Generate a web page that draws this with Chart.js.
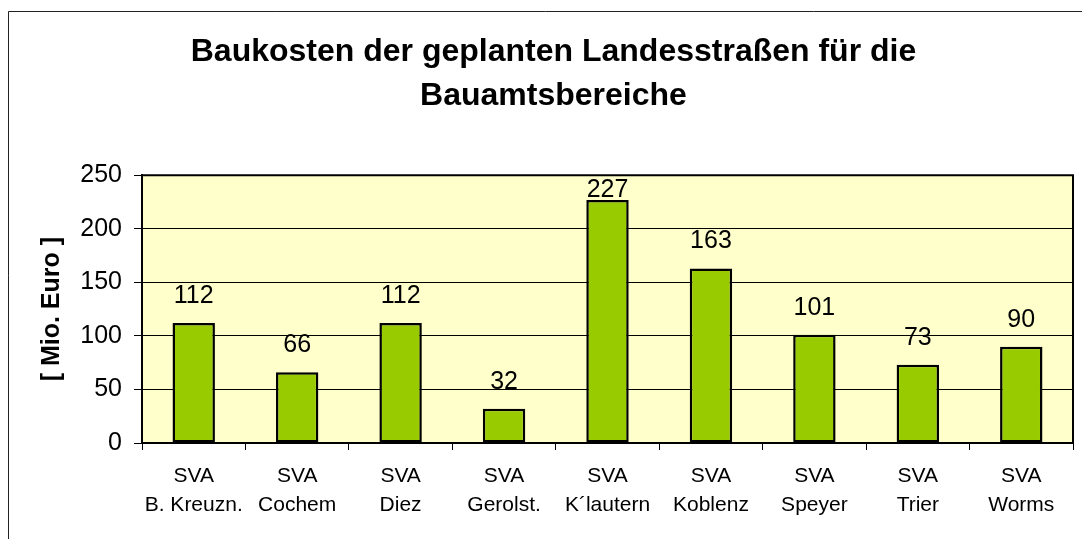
<!DOCTYPE html>
<html>
<head>
<meta charset="utf-8">
<script src="https://cdn.jsdelivr.net/npm/chart.js@4"></script>
<style>
  html, body { margin: 0; padding: 0; background: #fff; }
  #wrap { width: 1082px; height: 539px; }
</style>
</head>
<body>
<div id="wrap"><canvas id="chart" width="1082" height="539"></canvas></div>
<script>
// ------------------------
// DATA
// ------------------------
const categories = [
  ["SVA", "B. Kreuzn."],
  ["SVA", "Cochem"],
  ["SVA", "Diez"],
  ["SVA", "Gerolst."],
  ["SVA", "K\u00b4lautern"],
  ["SVA", "Koblenz"],
  ["SVA", "Speyer"],
  ["SVA", "Trier"],
  ["SVA", "Worms"]
];
const costs = [112, 66, 112, 32, 227, 163, 101, 73, 90];
const titleLines = ["Baukosten der geplanten Landesstraßen für die", "Bauamtsbereiche"];
const yTitle = "[ Mio. Euro ]";

const FONT = "'Liberation Sans', Arial, sans-serif";

// ------------------------
// PLUGINS
// ------------------------
// white page, outer frame, yellow plot area
const background = {
  id: "background",
  beforeDraw(chart) {
    const { ctx, chartArea: a } = chart;
    ctx.save();
    ctx.fillStyle = "#fff";
    ctx.fillRect(0, 0, chart.width, chart.height);
    ctx.strokeStyle = "#222";
    ctx.lineWidth = 1;
    ctx.beginPath();
    ctx.moveTo(8.5, chart.height);
    ctx.lineTo(8.5, 11.5);
    ctx.lineTo(chart.width, 11.5);
    ctx.stroke();
    ctx.fillStyle = "#FFFFCC";
    ctx.fillRect(a.left, a.top, a.right - a.left, a.bottom - a.top);
    ctx.restore();
  },
  afterDraw(chart) {
    const { ctx, chartArea: a } = chart;
    ctx.save();
    ctx.strokeStyle = "#000";
    ctx.lineWidth = 2;
    ctx.beginPath();
    ctx.moveTo(a.left, a.top);
    ctx.lineTo(a.right, a.top);
    ctx.lineTo(a.right, a.bottom);
    ctx.stroke();
    ctx.restore();
  }
};

// value labels above the bars
const valueLabels = {
  id: "valueLabels",
  afterDatasetsDraw(chart) {
    const { ctx, chartArea: a } = chart;
    const meta = chart.getDatasetMeta(0);
    ctx.save();
    ctx.font = "25px " + FONT;
    ctx.fillStyle = "#000";
    ctx.textAlign = "center";
    ctx.textBaseline = "alphabetic";
    meta.data.forEach((bar, i) => {
      const y = Math.max(bar.y - 20, a.top + 22);
      ctx.fillText(String(costs[i]), bar.x, y);
    });
    ctx.restore();
  }
};

// ------------------------
// CHART
// ------------------------
const ctx = document.getElementById("chart").getContext("2d");

new Chart(ctx, {
  type: "bar",
  data: {
    labels: categories,
    datasets: [{
      data: costs,
      backgroundColor: "#99CC00",
      borderColor: "#000",
      borderWidth: 2.5,
      borderSkipped: false,
      categoryPercentage: 1,
      barPercentage: 0.41
    }]
  },
  options: {
    responsive: false,
    animation: false,
    layout: {
      padding: { top: 30, right: 9, bottom: 0, left: 34 }
    },
    plugins: {
      legend: { display: false },
      tooltip: { enabled: false },
      title: {
        display: true,
        text: titleLines,
        color: "#000",
        font: { family: FONT, size: 32, weight: "bold", lineHeight: 1.38 },
        padding: { top: 0, bottom: 57 }
      }
    },
    scales: {
      x: {
        afterFit: (scale) => { scale.height = 96; },
        grid: {
          offset: true,
          drawOnChartArea: false,
          color: "#000",
          tickLength: 7
        },
        border: { color: "#000", width: 2 },
        ticks: {
          color: "#000",
          padding: 12,
          autoSkip: false,
          maxRotation: 0,
          minRotation: 0,
          font: { family: FONT, size: 21, lineHeight: 1.36 }
        }
      },
      y: {
        min: 0,
        max: 250,
        afterFit: (scale) => { scale.width = 108; },
        grid: {
          color: "#000",
          lineWidth: 1,
          tickLength: 8
        },
        border: { color: "#000", width: 2 },
        ticks: {
          stepSize: 50,
          color: "#000",
          padding: 12,
          font: { family: FONT, size: 25 }
        },
        title: {
          display: true,
          text: yTitle,
          color: "#000",
          padding: { top: 3, bottom: 0 },
          font: { family: FONT, size: 25, weight: "bold" }
        }
      }
    }
  },
  plugins: [background, valueLabels]
});
</script>
</body>
</html>
